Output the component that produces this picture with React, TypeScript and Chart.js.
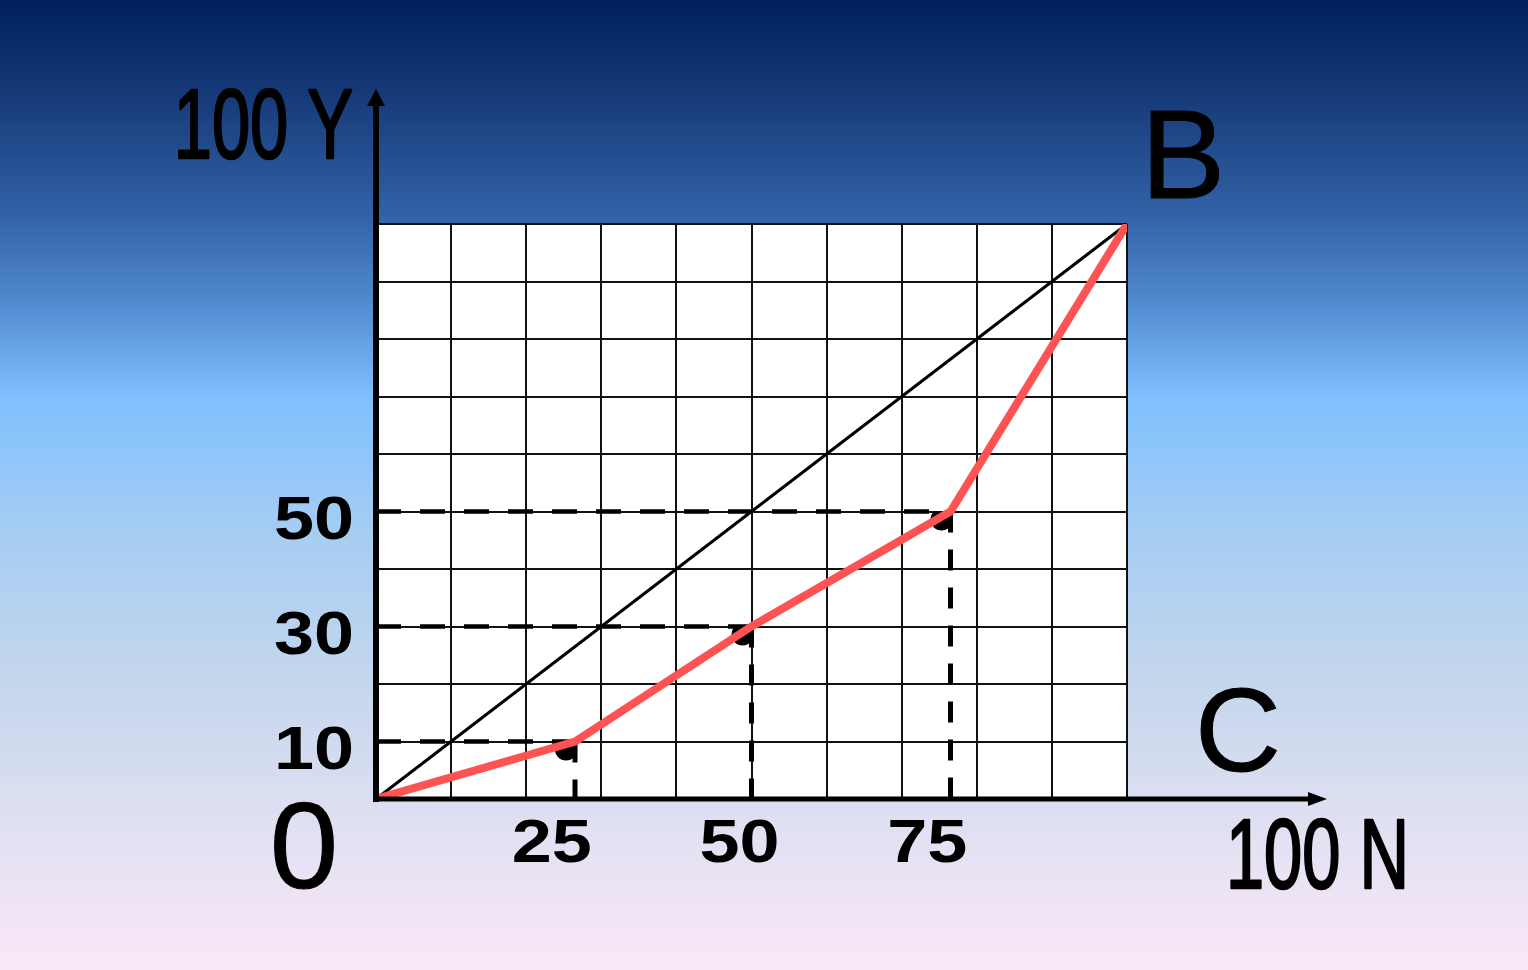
import React, { useEffect, useRef } from "react";
import { Chart, registerables } from "chart.js";

Chart.register(...registerables);

// Lorenz curve data (cumulative % of population vs cumulative % of income)
const populationShare = [0, 26.5, 50, 76.5, 100];
const incomeShare = [0, 10, 30, 50, 100];
// Line of perfect equality
const equalityX = [0, 100];
const equalityY = [0, 100];
// Tick labels
const xLabelValues = [25, 50, 75];
const xLabels = ["25", "50", "75"];
const yLabelValues = [10, 30, 50];
const yLabels = ["10", "30", "50"];
// Corner / axis labels
const originLabel = "0";
const yAxisLabel = "100 Y";
const xAxisLabel = "100 N";
const pointBLabel = "B";
const pointCLabel = "C";

const FONT = '"Liberation Sans", Arial, Helvetica, sans-serif';

function drawText(
  ctx: CanvasRenderingContext2D,
  text: string,
  x: number,
  y: number,
  font: string,
  align: CanvasTextAlign,
  sx = 1,
  stroke = 0
) {
  ctx.save();
  ctx.translate(x, y);
  ctx.scale(sx, 1);
  ctx.font = font;
  ctx.textAlign = align;
  ctx.textBaseline = "alphabetic";
  ctx.fillStyle = "#000";
  ctx.fillText(text, 0, 0);
  if (stroke > 0) {
    ctx.strokeStyle = "#000";
    ctx.lineWidth = stroke;
    ctx.lineJoin = "round";
    ctx.strokeText(text, 0, 0);
  }
  ctx.restore();
}

const backgroundPlugin = {
  id: "bgPlugin",
  beforeDraw(chart: any) {
    const { ctx, width, height, chartArea } = chart;
    ctx.save();
    const g = ctx.createLinearGradient(0, 0, 0, height);
    g.addColorStop(0, "#00205e");
    g.addColorStop(0.1, "#173a78");
    g.addColorStop(0.22, "#3162a6");
    g.addColorStop(0.32, "#558ed2");
    g.addColorStop(0.41, "#80c0ff");
    g.addColorStop(0.55, "#a6cdf2");
    g.addColorStop(0.7, "#c4d6ec");
    g.addColorStop(0.85, "#e0e0f2");
    g.addColorStop(1, "#fae8f8");
    ctx.fillStyle = g;
    ctx.fillRect(0, 0, width, height);
    ctx.fillStyle = "#ffffff";
    ctx.fillRect(
      chartArea.left,
      chartArea.top,
      chartArea.right - chartArea.left,
      chartArea.bottom - chartArea.top
    );
    ctx.restore();
  },
};

const guidePlugin = {
  id: "guidePlugin",
  beforeDatasetsDraw(chart: any) {
    const { ctx, scales } = chart;
    const xs = scales.x;
    const ys = scales.y;
    const x0 = xs.getPixelForValue(0);
    const y0 = ys.getPixelForValue(0);
    ctx.save();
    ctx.strokeStyle = "#000";
    ctx.lineCap = "butt";
    for (let i = 1; i < populationShare.length - 1; i++) {
      const px = xs.getPixelForValue(populationShare[i]);
      const py = ys.getPixelForValue(incomeShare[i]);
      // horizontal dashed
      ctx.lineWidth = 4.5;
      ctx.setLineDash([25, 19]);
      ctx.beginPath();
      ctx.moveTo(x0, py);
      ctx.lineTo(px, py);
      ctx.stroke();
      // vertical dashed
      ctx.lineWidth = 5;
      ctx.setLineDash([21, 17]);
      ctx.beginPath();
      ctx.moveTo(px, py);
      ctx.lineTo(px, y0);
      ctx.stroke();
      // blob marker
      ctx.setLineDash([]);
      ctx.save();
      ctx.beginPath();
      ctx.rect(px - 40, py, 43, 40);
      ctx.clip();
      ctx.fillStyle = "#000";
      ctx.beginPath();
      ctx.arc(px - 9, py + 8, 11, 0, Math.PI * 2);
      ctx.fill();
      ctx.restore();
    }
    ctx.restore();
  },
  afterDatasetsDraw(chart: any) {
    const { ctx, chartArea, scales } = chart;
    const xs = scales.x;
    const ys = scales.y;
    const left = chartArea.left;
    const bottom = chartArea.bottom;
    ctx.save();
    ctx.fillStyle = "#000";
    ctx.strokeStyle = "#000";
    ctx.setLineDash([]);
    // y axis with arrow
    const yTip = chartArea.top - 135;
    ctx.lineWidth = 6;
    ctx.beginPath();
    ctx.moveTo(left, bottom + 3);
    ctx.lineTo(left, yTip + 12);
    ctx.stroke();
    ctx.beginPath();
    ctx.moveTo(left, yTip);
    ctx.lineTo(left - 9, yTip + 17);
    ctx.lineTo(left + 9, yTip + 17);
    ctx.closePath();
    ctx.fill();
    // x axis with arrow
    const xTip = chartArea.right + 200;
    ctx.lineWidth = 5;
    ctx.beginPath();
    ctx.moveTo(left - 3, bottom);
    ctx.lineTo(xTip - 12, bottom);
    ctx.stroke();
    ctx.beginPath();
    ctx.moveTo(xTip, bottom);
    ctx.lineTo(xTip - 19, bottom - 7);
    ctx.lineTo(xTip - 19, bottom + 7);
    ctx.closePath();
    ctx.fill();
    ctx.restore();

    // tick labels
    const boldFont = `bold 61px ${FONT}`;
    yLabelValues.forEach((v, i) => {
      drawText(ctx, yLabels[i], left - 22, ys.getPixelForValue(v) + 27, boldFont, "right", 1.18);
    });
    xLabelValues.forEach((v, i) => {
      drawText(ctx, xLabels[i], xs.getPixelForValue(v) - 12, bottom + 63, boldFont, "center", 1.18);
    });
    // big labels
    drawText(ctx, originLabel, left - 72, bottom + 89, `123px ${FONT}`, "center", 1, 1);
    drawText(ctx, yAxisLabel, left - 23, chartArea.top - 66, `98px ${FONT}`, "right", 0.7, 2.5);
    drawText(ctx, xAxisLabel, chartArea.right + 282, bottom + 89, `98px ${FONT}`, "right", 0.7, 2.5);
    drawText(ctx, pointBLabel, chartArea.right + 56, chartArea.top - 26, `127px ${FONT}`, "center", 1, 1);
    drawText(ctx, pointCLabel, chartArea.right + 111, bottom - 28, `119px ${FONT}`, "center", 1, 1);
  },
};

export default function App() {
  const canvasRef = useRef<HTMLCanvasElement | null>(null);

  useEffect(() => {
    if (!canvasRef.current) return;
    const chart = new Chart(canvasRef.current, {
      type: "line",
      data: {
        datasets: [
          {
            label: "Lorenz curve",
            data: populationShare.map((x, i) => ({ x, y: incomeShare[i] })),
            borderColor: "#ff5252",
            borderWidth: 8,
            pointRadius: 0,
            tension: 0,
            fill: false,
            order: 0,
          },
          {
            label: "Equality",
            data: equalityX.map((x, i) => ({ x, y: equalityY[i] })),
            borderColor: "#000000",
            borderWidth: 3,
            pointRadius: 0,
            tension: 0,
            fill: false,
            order: 1,
          },
        ],
      },
      options: {
        animation: false,
        responsive: true,
        maintainAspectRatio: false,
        layout: { padding: { left: 376, top: 224, right: 401, bottom: 171 } },
        plugins: {
          legend: { display: false },
          tooltip: { enabled: false },
          title: { display: false },
        },
        scales: {
          x: {
            type: "linear",
            min: 0,
            max: 100,
            ticks: { display: false, stepSize: 10 },
            grid: { color: "#111", lineWidth: 2, drawTicks: false },
            border: { display: false },
          },
          y: {
            type: "linear",
            min: 0,
            max: 100,
            ticks: { display: false, stepSize: 10 },
            grid: { color: "#111", lineWidth: 2, drawTicks: false },
            border: { display: false },
          },
        },
      },
      plugins: [backgroundPlugin, guidePlugin],
    });
    return () => chart.destroy();
  }, []);

  return (
    <div style={{ position: "fixed", left: 0, top: 0, width: 1528, height: 970 }}>
      <canvas ref={canvasRef} />
    </div>
  );
}
